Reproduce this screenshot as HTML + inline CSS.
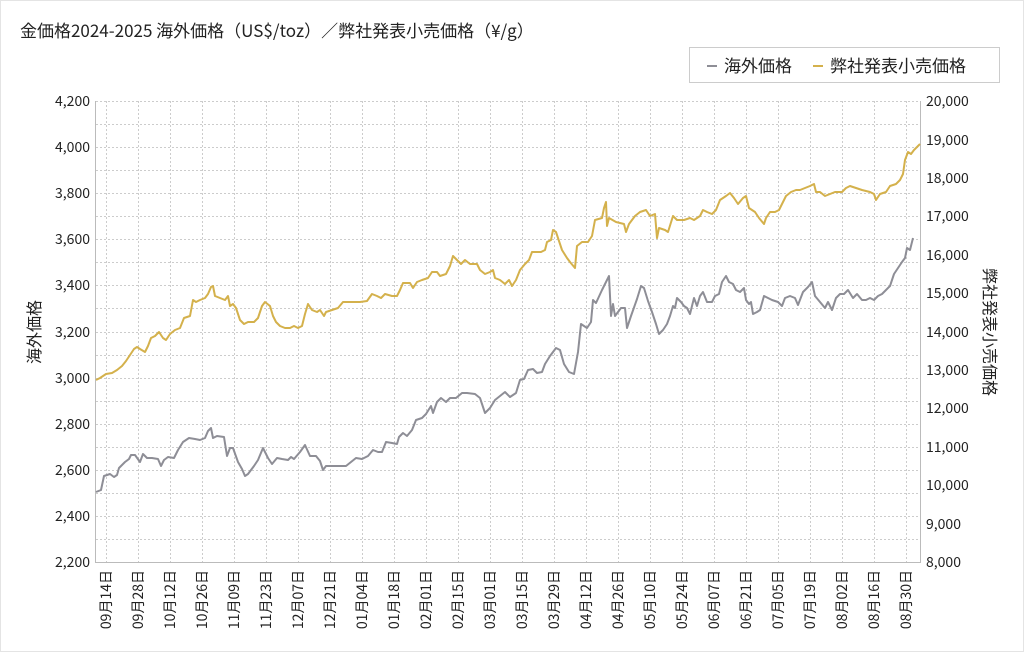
<!DOCTYPE html>
<html><head><meta charset="utf-8"><style>
html,body{margin:0;padding:0;background:#fff}
svg{display:block}
text{font-family:"Noto Sans CJK JP","Liberation Sans",sans-serif;fill:#222}
</style></head><body>
<svg width="1024" height="652" viewBox="0 0 1024 652">
<rect x="0.5" y="0.5" width="1023" height="651" fill="#fff" stroke="#e4e4e4"/>
<text x="20" y="37" font-size="17">金価格2024-2025 海外価格（US$/toz）／弊社発表小売価格（¥/g）</text>
<rect x="689.5" y="47.5" width="310" height="35" fill="#fff" stroke="#ccc"/>
<line x1="707" y1="66" x2="717" y2="66" stroke="#8e8e96" stroke-width="2"/>
<text x="724" y="72" font-size="17">海外価格</text>
<line x1="813" y1="66" x2="823" y2="66" stroke="#d4b14c" stroke-width="2"/>
<text x="830" y="72" font-size="17">弊社発表小売価格</text>
<g stroke="#ccc" stroke-dasharray="2,2" stroke-width="1">
<line x1="96" y1="101.5" x2="920" y2="101.5"/><line x1="96" y1="124.5" x2="920" y2="124.5"/><line x1="96" y1="147.5" x2="920" y2="147.5"/><line x1="96" y1="170.5" x2="920" y2="170.5"/><line x1="96" y1="193.5" x2="920" y2="193.5"/><line x1="96" y1="216.5" x2="920" y2="216.5"/><line x1="96" y1="239.5" x2="920" y2="239.5"/><line x1="96" y1="262.5" x2="920" y2="262.5"/><line x1="96" y1="285.5" x2="920" y2="285.5"/><line x1="96" y1="308.5" x2="920" y2="308.5"/><line x1="96" y1="332.5" x2="920" y2="332.5"/><line x1="96" y1="355.5" x2="920" y2="355.5"/><line x1="96" y1="378.5" x2="920" y2="378.5"/><line x1="96" y1="401.5" x2="920" y2="401.5"/><line x1="96" y1="424.5" x2="920" y2="424.5"/><line x1="96" y1="447.5" x2="920" y2="447.5"/><line x1="96" y1="470.5" x2="920" y2="470.5"/><line x1="96" y1="493.5" x2="920" y2="493.5"/><line x1="96" y1="516.5" x2="920" y2="516.5"/><line x1="96" y1="539.5" x2="920" y2="539.5"/>
<line x1="106.5" y1="101" x2="106.5" y2="562"/><line x1="138.5" y1="101" x2="138.5" y2="562"/><line x1="170.5" y1="101" x2="170.5" y2="562"/><line x1="202.5" y1="101" x2="202.5" y2="562"/><line x1="234.5" y1="101" x2="234.5" y2="562"/><line x1="266.5" y1="101" x2="266.5" y2="562"/><line x1="298.5" y1="101" x2="298.5" y2="562"/><line x1="330.5" y1="101" x2="330.5" y2="562"/><line x1="362.5" y1="101" x2="362.5" y2="562"/><line x1="394.5" y1="101" x2="394.5" y2="562"/><line x1="426.5" y1="101" x2="426.5" y2="562"/><line x1="458.5" y1="101" x2="458.5" y2="562"/><line x1="490.5" y1="101" x2="490.5" y2="562"/><line x1="522.5" y1="101" x2="522.5" y2="562"/><line x1="554.5" y1="101" x2="554.5" y2="562"/><line x1="586.5" y1="101" x2="586.5" y2="562"/><line x1="618.5" y1="101" x2="618.5" y2="562"/><line x1="650.5" y1="101" x2="650.5" y2="562"/><line x1="682.5" y1="101" x2="682.5" y2="562"/><line x1="714.5" y1="101" x2="714.5" y2="562"/><line x1="746.5" y1="101" x2="746.5" y2="562"/><line x1="778.5" y1="101" x2="778.5" y2="562"/><line x1="810.5" y1="101" x2="810.5" y2="562"/><line x1="842.5" y1="101" x2="842.5" y2="562"/><line x1="874.5" y1="101" x2="874.5" y2="562"/><line x1="906.5" y1="101" x2="906.5" y2="562"/>
</g>
<g stroke="#bbb" stroke-width="1">
<line x1="95.5" y1="101" x2="95.5" y2="562"/><line x1="920.5" y1="101" x2="920.5" y2="562"/><line x1="95" y1="562.5" x2="921" y2="562.5"/>
</g>
<g font-size="14" text-anchor="end">
<text x="90" y="106">4,200</text><text x="90" y="152">4,000</text><text x="90" y="198">3,800</text><text x="90" y="244">3,600</text><text x="90" y="290">3,400</text><text x="90" y="337">3,200</text><text x="90" y="383">3,000</text><text x="90" y="429">2,800</text><text x="90" y="475">2,600</text><text x="90" y="521">2,400</text><text x="90" y="567">2,200</text>
</g>
<g font-size="14">
<text x="926" y="106">20,000</text><text x="926" y="145">19,000</text><text x="926" y="183">18,000</text><text x="926" y="221">17,000</text><text x="926" y="260">16,000</text><text x="926" y="298">15,000</text><text x="926" y="337">14,000</text><text x="926" y="375">13,000</text><text x="926" y="413">12,000</text><text x="926" y="452">11,000</text><text x="926" y="490">10,000</text><text x="926" y="529">9,000</text><text x="926" y="567">8,000</text>
</g>
<text transform="translate(40,332) rotate(-90)" font-size="16" text-anchor="middle">海外価格</text>
<text transform="translate(984,332) rotate(90)" font-size="16" text-anchor="middle">弊社発表小売価格</text>
<g font-size="14" text-anchor="end">
<text transform="translate(111,570) rotate(-90)">09月14日</text><text transform="translate(143,570) rotate(-90)">09月28日</text><text transform="translate(175,570) rotate(-90)">10月12日</text><text transform="translate(207,570) rotate(-90)">10月26日</text><text transform="translate(239,570) rotate(-90)">11月09日</text><text transform="translate(271,570) rotate(-90)">11月23日</text><text transform="translate(303,570) rotate(-90)">12月07日</text><text transform="translate(335,570) rotate(-90)">12月21日</text><text transform="translate(367,570) rotate(-90)">01月04日</text><text transform="translate(399,570) rotate(-90)">01月18日</text><text transform="translate(431,570) rotate(-90)">02月01日</text><text transform="translate(463,570) rotate(-90)">02月15日</text><text transform="translate(495,570) rotate(-90)">03月01日</text><text transform="translate(527,570) rotate(-90)">03月15日</text><text transform="translate(559,570) rotate(-90)">03月29日</text><text transform="translate(591,570) rotate(-90)">04月12日</text><text transform="translate(623,570) rotate(-90)">04月26日</text><text transform="translate(655,570) rotate(-90)">05月10日</text><text transform="translate(687,570) rotate(-90)">05月24日</text><text transform="translate(719,570) rotate(-90)">06月07日</text><text transform="translate(751,570) rotate(-90)">06月21日</text><text transform="translate(783,570) rotate(-90)">07月05日</text><text transform="translate(815,570) rotate(-90)">07月19日</text><text transform="translate(847,570) rotate(-90)">08月02日</text><text transform="translate(879,570) rotate(-90)">08月16日</text><text transform="translate(911,570) rotate(-90)">08月30日</text>
</g>
<polyline fill="none" stroke="#8e8e96" stroke-width="2" stroke-linejoin="round" points="96,492 101,490 104,476 110,474 114,477 117,475 119,468 125,462 129,459 131,455 135,455 140,462 143,454 147,458 152,458 158,459 161,466 164,460 168,457 174,458 178,450 183,442 189,438 195,439 200,440 205,438 208,431 211,428 213,438 217,436 224,437 227,456 230,448 233,448 238,462 242,469 245,476 248,474 254,466 258,460 263,448 268,458 272,464 277,458 282,459 288,460 291,457 294,459 300,452 305,445 310,456 316,456 320,461 323,470 326,466 332,466 340,466 346,466 351,462 356,458 362,459 368,456 373,450 378,452 382,452 386,442 392,443 397,444 399,437 403,433 407,436 412,430 416,420 422,418 426,414 431,406 433,413 437,402 441,398 446,402 450,398 456,398 462,393 467,393 475,394 480,398 485,413 490,408 495,400 500,396 505,392 510,397 516,393 520,380 524,379 528,370 533,369 537,373 542,372 545,364 550,356 556,348 560,350 564,364 569,372 574,374 578,352 581,324 587,328 591,322 593,300 596,303 602,290 606,282 609,276 611,316 613,304 615,316 621,308 625,308 627,328 631,316 637,299 641,286 644,288 648,301 652,312 656,324 659,334 663,330 667,324 670,316 673,306 675,308 677,298 681,302 684,306 687,308 690,314 694,298 697,306 700,296 703,292 707,302 712,302 715,296 719,294 722,282 726,276 729,282 733,284 736,290 740,292 744,288 746,300 749,304 751,302 753,314 757,312 760,310 764,296 768,298 772,300 778,302 782,306 785,298 790,296 795,298 798,305 803,292 808,287 812,282 815,296 820,302 825,308 828,302 832,310 836,298 840,294 844,294 848,290 853,298 857,294 862,300 866,300 870,298 874,300 878,296 882,294 886,290 890,286 894,274 898,268 902,262 905,258 907,248 910,250 913,238"/>
<polyline fill="none" stroke="#d4b14c" stroke-width="2" stroke-linejoin="round" points="96,380 100,378 103,376 106,374 112,373 117,370 122,366 126,361 130,355 134,349 137,347 140,349 145,352 148,346 151,338 155,336 159,332 163,338 166,340 170,334 175,330 180,328 184,318 190,316 193,300 196,302 200,300 205,298 208,294 211,287 213,286 215,296 220,298 225,300 228,296 230,306 233,304 236,308 240,320 244,324 248,322 254,322 258,318 262,306 265,302 270,306 273,316 276,322 280,326 285,328 290,328 294,326 298,328 302,326 305,314 308,304 312,310 317,312 320,310 324,316 326,312 332,310 338,308 343,302 350,302 360,302 367,301 372,294 377,296 381,298 385,294 392,296 397,296 400,290 403,283 410,283 413,288 417,282 422,280 428,278 432,272 437,272 440,276 446,274 450,266 453,256 457,260 461,264 465,260 470,264 477,264 480,270 485,274 490,272 493,270 495,278 500,280 505,284 509,280 512,286 516,280 520,270 525,264 529,260 532,252 537,252 541,252 545,250 547,242 551,240 553,230 556,232 558,238 562,250 567,258 570,262 575,268 577,246 582,242 588,242 592,236 595,220 602,218 604,208 606,202 607,226 609,218 616,222 624,224 626,232 629,224 635,216 640,212 646,210 650,216 655,214 657,238 659,228 665,230 668,232 673,216 677,220 684,220 690,218 694,220 700,216 703,210 707,212 712,214 716,210 720,200 726,196 730,193 734,198 738,204 743,198 746,196 749,208 752,210 755,212 759,218 764,224 766,218 770,212 775,212 779,210 782,204 786,196 791,192 796,190 800,190 805,188 810,186 814,184 816,192 820,192 825,196 830,194 835,192 842,192 846,188 850,186 856,188 862,190 870,192 874,194 876,200 880,194 886,192 890,186 896,184 900,180 903,174 905,160 908,152 911,154 914,150 920,144"/>
</svg>
</body></html>
